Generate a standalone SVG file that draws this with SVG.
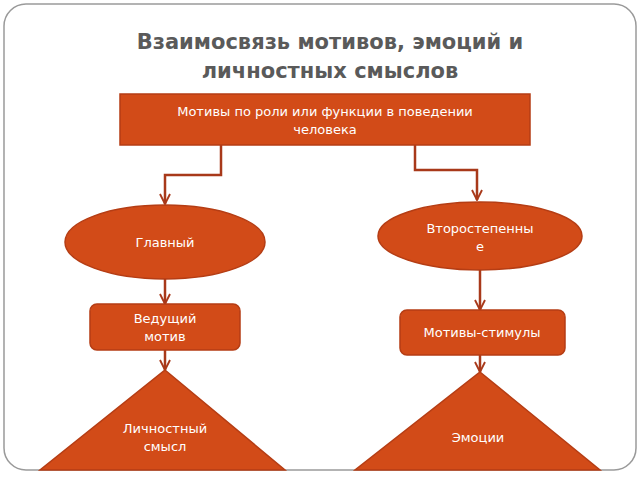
<svg xmlns="http://www.w3.org/2000/svg" width="640" height="480" viewBox="0 0 640 480">
<defs>
<style>
.n{fill:#d24b18;stroke:#b53d14;stroke-width:1.5}
.t{font-family:"DejaVu Sans",sans-serif;font-size:13px;fill:#fff;text-anchor:middle}
.c{fill:none;stroke:#a8391a;stroke-width:2.5}
</style>
<marker id="a" viewBox="0 0 10 10" refX="9" refY="5" markerWidth="5" markerHeight="5" orient="auto"><path d="M1,1 L9,5 L1,9" fill="none" stroke="#a8391a" stroke-width="1.5"/></marker>
</defs>
<rect width="640" height="480" fill="#fff"/>
<rect x="4" y="4" width="632" height="466" rx="22" fill="#fff" stroke="#9a9a9a" stroke-width="1.5"/>
<text x="330" y="49" font-family="DejaVu Sans,sans-serif" font-size="21" font-weight="bold" fill="#5a5a5a" text-anchor="middle">Взаимосвязь мотивов, эмоций и</text>
<text x="330" y="78" font-family="DejaVu Sans,sans-serif" font-size="21" font-weight="bold" fill="#5a5a5a" text-anchor="middle">личностных смыслов</text>
<g id="connectors">
<path class="c" d="M221,145 V175 H165 V204" marker-end="url(#a)"/>
<path class="c" d="M415,140 V170 H477 V200" marker-end="url(#a)"/>
<path class="c" d="M165,279 V304" marker-end="url(#a)"/>
<path class="c" d="M480,270 V310" marker-end="url(#a)"/>
<path class="c" d="M165,350 V370" marker-end="url(#a)"/>
<path class="c" d="M480,355 V372" marker-end="url(#a)"/>
</g>
<g id="root"><rect class="n" x="120" y="94" width="410" height="51"/>
<text class="t" x="325" y="116">Мотивы по роли или функции в поведении</text><text class="t" x="325" y="134">человека</text></g>
<g id="main"><ellipse class="n" cx="165" cy="242" rx="100" ry="37"/><text class="t" x="165" y="247">Главный</text></g>
<g id="secondary"><ellipse class="n" cx="480" cy="236" rx="102" ry="34"/><text class="t" x="480" y="233">Второстепенны</text><text class="t" x="480" y="251">е</text></g>
<g id="leading"><rect class="n" x="90" y="304" width="150" height="46" rx="7"/><text class="t" x="165" y="323">Ведущий</text><text class="t" x="165" y="341">мотив</text></g>
<g id="stimuli"><rect class="n" x="400" y="310" width="165" height="45" rx="7"/><text class="t" x="482" y="337">Мотивы-стимулы</text></g>
<g id="sense"><polygon class="n" points="165,370 285,470 40,470"/><text class="t" x="165" y="433">Личностный</text><text class="t" x="165" y="451">смысл</text></g>
<g id="emotions"><polygon class="n" points="480,372 600,470 355,470"/><text class="t" x="478" y="442">Эмоции</text></g>
</svg>
